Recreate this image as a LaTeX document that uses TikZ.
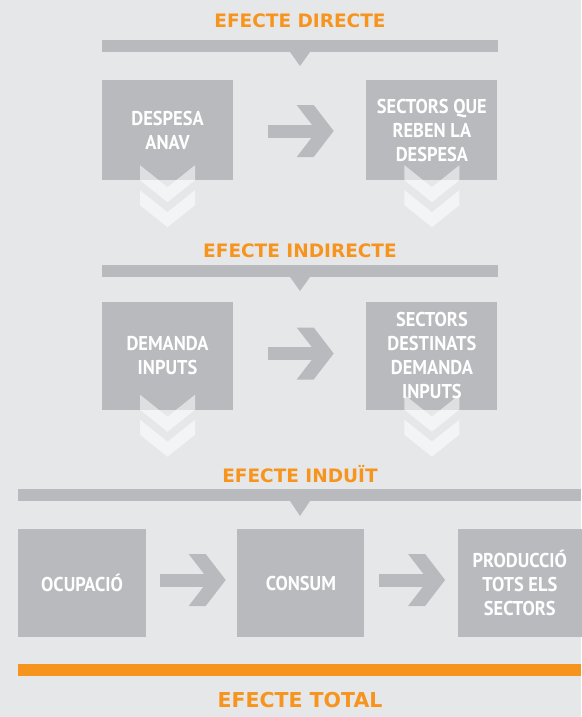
\documentclass[tikz,border=0pt]{standalone}
\usepackage{fontspec}
\setmainfont{DejaVu Sans}
\newfontfamily\boxfont{PT Sans}[FakeStretch=0.92]
\usepackage{tikz}
\usetikzlibrary{positioning, calc}
\definecolor{bggray}{HTML}{E6E7E9}
\definecolor{boxgray}{HTML}{B9BABE}
\definecolor{effectorange}{HTML}{F7941D}

\begin{document}
\begin{tikzpicture}[
    x=1pt, y=-1pt,
    box/.style={
        rectangle,
        fill=boxgray,
        minimum width=131pt,
        minimum height=100pt,
        inner sep=0pt,
        text=white,
        align=center,
        font=\boxfont\bfseries\fontsize{20}{24}\selectfont
    },
    efftitle/.style={
        anchor=base,
        inner sep=0pt,
        text=effectorange,
        font=\bfseries\fontsize{18.5}{20}\selectfont
    },
    fatarrow/.pic={
        \fill[boxgray] (-32,-6.5) rectangle (20,6.5);
        \fill[boxgray] (-3,-26) -- (14,-26) -- (34,0) -- (14,26) -- (-3,26) -- (17,0) -- cycle;
    },
    downchev/.pic={
        \foreach \dy in {0,25}
            \fill[white, fill opacity=0.55] (-27.5,\dy) -- (0,22+\dy) -- (27.5,\dy)
                -- (27.5,15+\dy) -- (0,37+\dy) -- (-27.5,15+\dy) -- cycle;
    }
]

% Background
\fill[bggray] (0,0) rectangle (581,717);
\useasboundingbox (0,0) rectangle (581,717);

% Row 1: direct effect
\node[efftitle] (tdirect) at (300,28) {EFECTE DIRECTE};
\fill[boxgray] (102,40) rectangle (498,52);
\fill[boxgray] (290,52) -- (310,52) -- (300,66) -- cycle;
\node[box] (despesa) at (167.5,130) {DESPESA\\ANAV};
\node[box, right=133pt of despesa] (sectorsque) {SECTORS QUE\\REBEN LA\\DESPESA};
\pic at ($(despesa.east)!0.5!(sectorsque.west)+(0,1)$) {fatarrow};
\pic at ($(despesa.south)+(0,-15)$) {downchev};
\pic at ($(sectorsque.south)+(0,-15)$) {downchev};

% Row 2: indirect effect
\node[efftitle] (tindirect) at (300,257) {EFECTE INDIRECTE};
\fill[boxgray] (102,265) rectangle (498,277);
\fill[boxgray] (290,277) -- (310,277) -- (300,291) -- cycle;
\node[box, minimum height=108pt] (demanda) at (167.5,355.5) {DEMANDA\\INPUTS};
\node[box, minimum height=108pt, right=133pt of demanda] (destinats) {SECTORS\\DESTINATS\\DEMANDA\\INPUTS};
\pic at ($(demanda.east)!0.5!(destinats.west)+(0,-2)$) {fatarrow};
\pic at ($(demanda.south)+(0,-15)$) {downchev};
\pic at ($(destinats.south)+(0,-15)$) {downchev};

% Row 3: induced effect
\node[efftitle] (tinduit) at (300,482) {EFECTE INDUÏT};
\fill[boxgray] (18,489) rectangle (581,501);
\fill[boxgray] (290,501) -- (310,501) -- (300,516) -- cycle;
\node[box, minimum width=128pt, minimum height=108pt] (ocupacio) at (82,583) {OCUPACIÓ};
\node[box, minimum width=127pt, minimum height=108pt, right=91pt of ocupacio] (consum) {CONSUM};
\node[box, minimum width=124pt, minimum height=108pt, right=93pt of consum] (produccio) {PRODUCCIÓ\\TOTS ELS\\SECTORS};
\pic at ($(ocupacio.east)!0.5!(consum.west)+(0,-3)$) {fatarrow};
\pic at ($(consum.east)!0.5!(produccio.west)+(0,-3)$) {fatarrow};

% Total
\fill[effectorange] (18,664) rectangle (581,676);
\node[efftitle, font=\bfseries\fontsize{20.5}{24}\selectfont] (ttotal) at (300,707) {EFECTE TOTAL};

\end{tikzpicture}
\end{document}
